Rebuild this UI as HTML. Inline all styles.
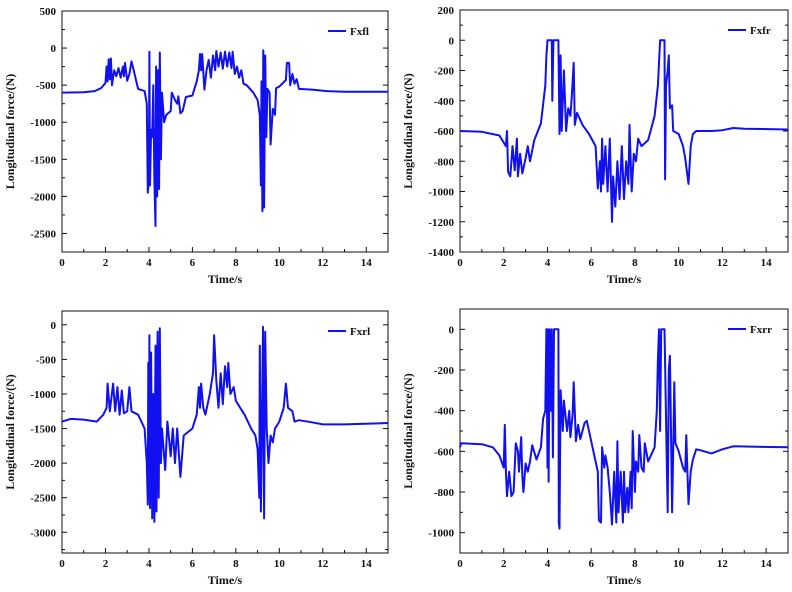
<!DOCTYPE html>
<html><head><meta charset="utf-8"><style>
body{margin:0;background:#fff}
svg{display:block}
text{font-family:"Liberation Serif",serif;font-weight:bold;fill:#111}
</style></head><body>
<svg id="c" width="792" height="592"></svg>
<script>
const xTicks=[0,2,4,6,8,10,12,14];
const names=["Fxfl","Fxfr","Fxrl","Fxrr"];
const yTicks1=[500,0,-500,-1000,-1500,-2000,-2500];
const yTicks2=[200,0,-200,-400,-600,-800,-1000,-1200,-1400];
const yTicks3=[0,-500,-1000,-1500,-2000,-2500,-3000];
const yTicks4=[0,-200,-400,-600,-800,-1000];
const t1=[0,1,1.5,1.8,2.0,2.05,2.1,2.15,2.2,2.25,2.3,2.4,2.5,2.6,2.7,2.8,2.85,2.9,3.0,3.1,3.2,3.3,3.5,3.8,3.9,3.95,4.0,4.02,4.05,4.1,4.15,4.2,4.25,4.3,4.33,4.38,4.42,4.47,4.5,4.55,4.6,4.7,4.8,5.0,5.05,5.2,5.3,5.35,5.45,5.55,5.7,6.0,6.2,6.3,6.35,6.4,6.45,6.55,6.65,6.75,6.85,6.95,7.05,7.1,7.2,7.3,7.4,7.5,7.6,7.7,7.8,7.85,7.95,8.05,8.15,8.25,8.35,8.5,8.8,9.0,9.1,9.15,9.18,9.22,9.26,9.3,9.35,9.4,9.45,9.55,9.6,9.7,9.8,9.85,10.0,10.3,10.35,10.45,10.5,10.6,10.7,10.8,10.9,11.5,12.2,13,15];
const v1=[-600,-595,-580,-540,-470,-250,-450,-150,-420,-140,-500,-300,-380,-270,-400,-250,-380,-200,-440,-350,-180,-300,-550,-580,-750,-1950,-1800,-50,-1850,-1100,-1200,-500,-1800,-2400,-250,-2000,-300,-1900,-60,-1500,-600,-1000,-900,-850,-600,-700,-750,-650,-880,-850,-660,-640,-450,-300,-80,-300,-80,-560,-300,-160,-400,-100,-300,-40,-250,-60,-280,-50,-250,-60,-270,-50,-350,-250,-400,-300,-480,-500,-600,-700,-900,-1850,-450,-2200,-30,-2150,-100,-1200,-550,-600,-1300,-820,-900,-540,-520,-430,-200,-200,-500,-350,-480,-420,-550,-560,-580,-590,-590];
const t2=[0,1,1.8,2.1,2.15,2.2,2.3,2.4,2.5,2.6,2.65,2.75,2.85,3.0,3.1,3.2,3.4,3.7,3.9,3.95,4.0,4.2,4.22,4.27,4.5,4.55,4.6,4.65,4.75,4.85,4.95,5.05,5.1,5.2,5.25,5.35,5.6,5.9,6.2,6.3,6.4,6.45,6.5,6.55,6.65,6.75,6.85,6.95,7.0,7.1,7.2,7.3,7.4,7.5,7.6,7.7,7.75,7.85,7.95,8.05,8.15,8.3,8.6,8.9,9.05,9.15,9.35,9.38,9.42,9.5,9.55,9.6,9.7,9.75,10.0,10.2,10.3,10.45,10.55,10.65,10.8,11.5,12.0,12.5,13,15];
const v2=[-600,-605,-630,-700,-600,-870,-900,-700,-860,-650,-900,-750,-880,-780,-700,-800,-660,-550,-300,-100,0,0,-400,0,0,-620,-100,-600,-200,-600,-450,-500,-400,-150,-560,-480,-560,-620,-700,-980,-800,-1000,-650,-950,-700,-1000,-650,-1200,-900,-1100,-800,-1050,-700,-1050,-800,-950,-560,-1000,-750,-800,-650,-700,-660,-500,-300,0,0,-920,-300,-200,-100,-450,-430,-600,-620,-700,-780,-950,-700,-620,-600,-600,-595,-580,-585,-590];
const t3=[0,0.4,1,1.6,1.9,2.05,2.1,2.2,2.35,2.45,2.55,2.65,2.75,2.85,3.0,3.1,3.2,3.5,3.8,3.9,3.95,3.97,4.0,4.02,4.05,4.1,4.15,4.2,4.25,4.3,4.35,4.4,4.45,4.5,4.55,4.6,4.75,4.85,5.0,5.1,5.2,5.3,5.45,5.6,6.0,6.2,6.3,6.35,6.4,6.5,6.6,6.7,6.8,6.95,7.0,7.1,7.2,7.3,7.4,7.5,7.6,7.65,7.75,7.9,8.0,8.2,8.4,8.7,8.9,9.0,9.08,9.1,9.15,9.2,9.25,9.3,9.35,9.42,9.5,9.6,9.7,9.8,10.0,10.2,10.3,10.4,10.6,10.7,10.9,11.5,12,13,15];
const v3=[-1400,-1360,-1370,-1400,-1300,-1200,-850,-1250,-850,-1250,-900,-1300,-950,-1280,-1250,-900,-1250,-1300,-1500,-2000,-2600,-550,-2500,-150,-2650,-400,-2800,-1000,-2850,-300,-2700,-100,-2500,-50,-2000,-1500,-2100,-1400,-1900,-1500,-2000,-1500,-2200,-1600,-1500,-1300,-900,-1200,-850,-1200,-1300,-1150,-1000,-700,-150,-800,-1200,-700,-1150,-600,-900,-550,-1000,-900,-1100,-1200,-1300,-1500,-1600,-1800,-2500,-300,-2700,-1500,-30,-2800,-100,-1500,-2000,-1600,-1700,-1500,-1400,-1200,-850,-1200,-1250,-1400,-1380,-1410,-1440,-1440,-1420];
const t4=[0,0.05,1,1.5,1.8,2.0,2.05,2.1,2.15,2.25,2.35,2.45,2.55,2.65,2.7,2.8,2.85,2.9,3.0,3.1,3.2,3.3,3.5,3.7,3.8,3.9,3.95,4.0,4.02,4.05,4.1,4.15,4.2,4.25,4.3,4.5,4.52,4.55,4.6,4.7,4.75,4.9,5.0,5.05,5.15,5.2,5.3,5.4,5.5,5.7,5.8,6.0,6.2,6.3,6.35,6.45,6.5,6.6,6.65,6.75,6.85,6.95,7.05,7.15,7.2,7.25,7.35,7.45,7.5,7.55,7.65,7.7,7.8,7.85,7.9,8.0,8.05,8.15,8.2,8.3,8.4,8.45,8.6,8.9,9.0,9.05,9.1,9.15,9.2,9.35,9.45,9.5,9.55,9.6,9.65,9.7,9.75,9.8,9.85,10.0,10.2,10.3,10.35,10.4,10.45,10.55,10.65,10.8,11.0,11.5,12,12.5,15];
const v4=[-580,-560,-565,-580,-620,-680,-470,-700,-820,-700,-820,-800,-560,-600,-700,-530,-720,-800,-660,-700,-650,-570,-640,-580,-440,-400,0,-680,0,-750,0,-400,0,-630,0,0,-950,-980,-300,-500,-350,-500,-400,-530,-420,-260,-550,-470,-540,-460,-450,-550,-650,-700,-940,-950,-580,-680,-620,-680,-800,-960,-700,-950,-550,-900,-700,-950,-700,-900,-780,-900,-700,-880,-500,-800,-650,-700,-520,-680,-700,-560,-650,-580,-400,-150,0,-500,0,0,-600,-900,-200,-130,-500,-900,-600,-260,-560,-600,-680,-700,-520,-700,-860,-700,-640,-590,-595,-610,-590,-575,-580];

const panels=[
 {x0:62,x1:388,y0:11,y1:252,ymax:500,ymin:-2750,yt:yTicks1,t:t1,v:v1,n:names[0]},
 {x0:460,x1:788,y0:10,y1:252,ymax:200,ymin:-1400,yt:yTicks2,t:t2,v:v2,n:names[1]},
 {x0:62,x1:388,y0:311,y1:553,ymax:200,ymin:-3300,yt:yTicks3,t:t3,v:v3,n:names[2]},
 {x0:460,x1:788,y0:309,y1:553,ymax:100,ymin:-1100,yt:yTicks4,t:t4,v:v4,n:names[3]}
];
const svg=document.getElementById('c');
const NS='http://www.w3.org/2000/svg';
function mk(tag,a,parent){const e=document.createElementNS(NS,tag);for(const k in a)e.setAttribute(k,a[k]);(parent||svg).appendChild(e);return e;}
panels.forEach((p,i)=>{
 const g=mk('g',{});
 
 
 const X=t=>p.x0+(t-0)/15*(p.x1-p.x0);
 const Y=v=>p.y0+(p.ymax-v)/(p.ymax-p.ymin)*(p.y1-p.y0);
 const fr=mk('rect',{x:p.x0,y:p.y0,width:p.x1-p.x0,height:p.y1-p.y0,fill:'none',stroke:'#111','stroke-width':1},g);
 
 
 for(let t=0;t<=15;t++){const x=X(t);const L=t%2==0?5:3;
  mk('line',{x1:x,x2:x,y1:p.y1,y2:p.y1-L,stroke:'#111'},g);}
 xTicks.forEach(t=>{const tx=mk('text',{x:X(t),y:p.y1+14,'text-anchor':'middle','font-size':11},g);tx.textContent=t;
  
  });
 const step=p.yt[0]-p.yt[1];
 for(let v=p.yt[0];v>=p.ymin;v-=step/2){const y=Y(v);if(y<p.y0-0.5||y>p.y1+0.5)continue;const major=Math.abs((v-p.yt[0])%step)<1e-6;const L=major?5:3;
  mk('line',{x1:p.x0,x2:p.x0+L,y1:y,y2:y,stroke:'#111'},g);
  mk('line',{x1:p.x1,x2:p.x1-L,y1:y,y2:y,stroke:'#111'},g);}
 p.yt.forEach(v=>{const tx=mk('text',{x:p.x0-6,y:Y(v)+4,'text-anchor':'end','font-size':11},g);tx.textContent=v;
  
  });
 const xt=mk('text',{x:(p.x0+p.x1)/2,y:p.y1+31,'text-anchor':'middle','font-size':12},g);xt.textContent='Time/s';
 
 
 const cy=(p.y0+p.y1)/2, cx=p.x0-48;
 const yt=mk('text',{x:cx,y:cy,'text-anchor':'middle','font-size':12,transform:`rotate(-90 ${cx} ${cy})`},g);yt.textContent='Longitudinal force/(N)';
 
 
 const pts=p.t.map((t,k)=>X(t).toFixed(1)+','+Y(p.v[k]).toFixed(1)).join(' ');
 const pl=mk('polyline',{points:pts,fill:'none',stroke:'#1010f0','stroke-width':2,'stroke-linejoin':'round'},g);
 
 
 const lg=mk('g',{},g);
 
 
 mk('line',{x1:p.x1-60,x2:p.x1-42,y1:p.y0+20,y2:p.y0+20,stroke:'#1010f0','stroke-width':2},lg);
 const lt=mk('text',{x:p.x1-38,y:p.y0+24,'font-size':11},lg);lt.textContent=p.n;
});
</script>
</body></html>
